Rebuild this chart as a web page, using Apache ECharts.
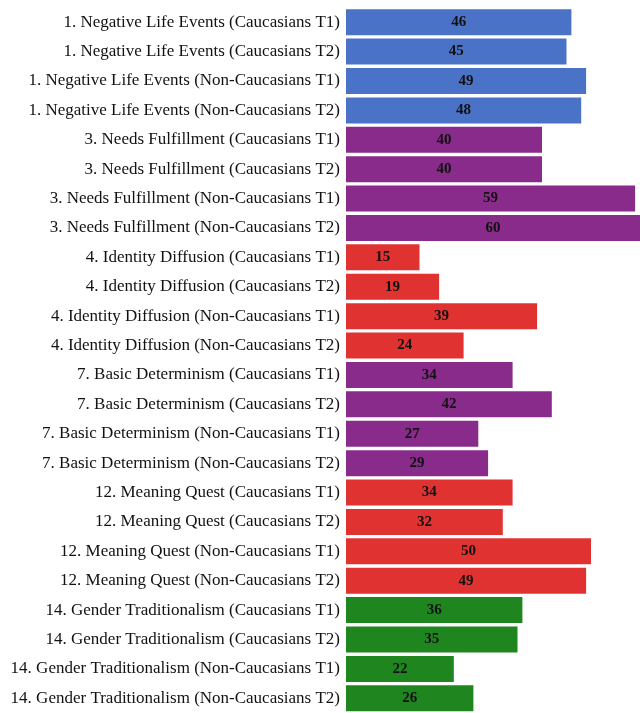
<!DOCTYPE html>
<html>
<head>
<meta charset="utf-8">
<script src="https://cdn.jsdelivr.net/npm/echarts@6/dist/echarts.min.js"></script>
<style>
  html, body { margin: 0; padding: 0; background: #fff; }
  #chart { width: 640px; height: 713px; }
</style>
</head>
<body>
<div id="chart"></div>
<script>
// categories, top to bottom
const categories = [
  '1. Negative Life Events (Caucasians T1)',
  '1. Negative Life Events (Caucasians T2)',
  '1. Negative Life Events (Non-Caucasians T1)',
  '1. Negative Life Events (Non-Caucasians T2)',
  '3. Needs Fulfillment (Caucasians T1)',
  '3. Needs Fulfillment (Caucasians T2)',
  '3. Needs Fulfillment (Non-Caucasians T1)',
  '3. Needs Fulfillment (Non-Caucasians T2)',
  '4. Identity Diffusion (Caucasians T1)',
  '4. Identity Diffusion (Caucasians T2)',
  '4. Identity Diffusion (Non-Caucasians T1)',
  '4. Identity Diffusion (Non-Caucasians T2)',
  '7. Basic Determinism (Caucasians T1)',
  '7. Basic Determinism (Caucasians T2)',
  '7. Basic Determinism (Non-Caucasians T1)',
  '7. Basic Determinism (Non-Caucasians T2)',
  '12. Meaning Quest (Caucasians T1)',
  '12. Meaning Quest (Caucasians T2)',
  '12. Meaning Quest (Non-Caucasians T1)',
  '12. Meaning Quest (Non-Caucasians T2)',
  '14. Gender Traditionalism (Caucasians T1)',
  '14. Gender Traditionalism (Caucasians T2)',
  '14. Gender Traditionalism (Non-Caucasians T1)',
  '14. Gender Traditionalism (Non-Caucasians T2)'
]
const values = [46, 45, 49, 48, 40, 40, 59, 60, 15, 19, 39, 24, 34, 42, 27, 29, 34, 32, 50, 49, 36, 35, 22, 26]
// one colour per group of four bars
const groupColors = ['#4a72c6', '#892b8a', '#e03331', '#1f861f']
const barGroup = [0, 0, 0, 0, 1, 1, 1, 1, 2, 2, 2, 2, 1, 1, 1, 1, 2, 2, 2, 2, 3, 3, 3, 3]

const chart = echarts.init(document.getElementById('chart'))
chart.setOption({
  animation: false,
  grid: {
    left: 346,
    right: 0,
    top: 7.5,
    bottom: -10.5,
    containLabel: false
  },
  xAxis: {
    type: 'value',
    min: 0,
    max: 60,
    show: false
  },
  yAxis: {
    type: 'category',
    inverse: true,
    data: categories,
    axisLine: { show: false },
    axisTick: { show: false },
    axisLabel: {
      margin: 6,
      color: '#111',
      fontFamily: 'Liberation Serif',
      fontSize: 17
    }
  },
  series: [
    {
      type: 'bar',
      barWidth: 26,
      data: values.map((v, i) => ({
        value: v,
        itemStyle: { color: groupColors[barGroup[i]] }
      })),
      label: {
        show: true,
        position: 'inside',
        color: '#111',
        fontFamily: 'Liberation Serif',
        fontWeight: 'bold',
        fontSize: 15
      }
    }
  ]
})
</script>
</body>
</html>
